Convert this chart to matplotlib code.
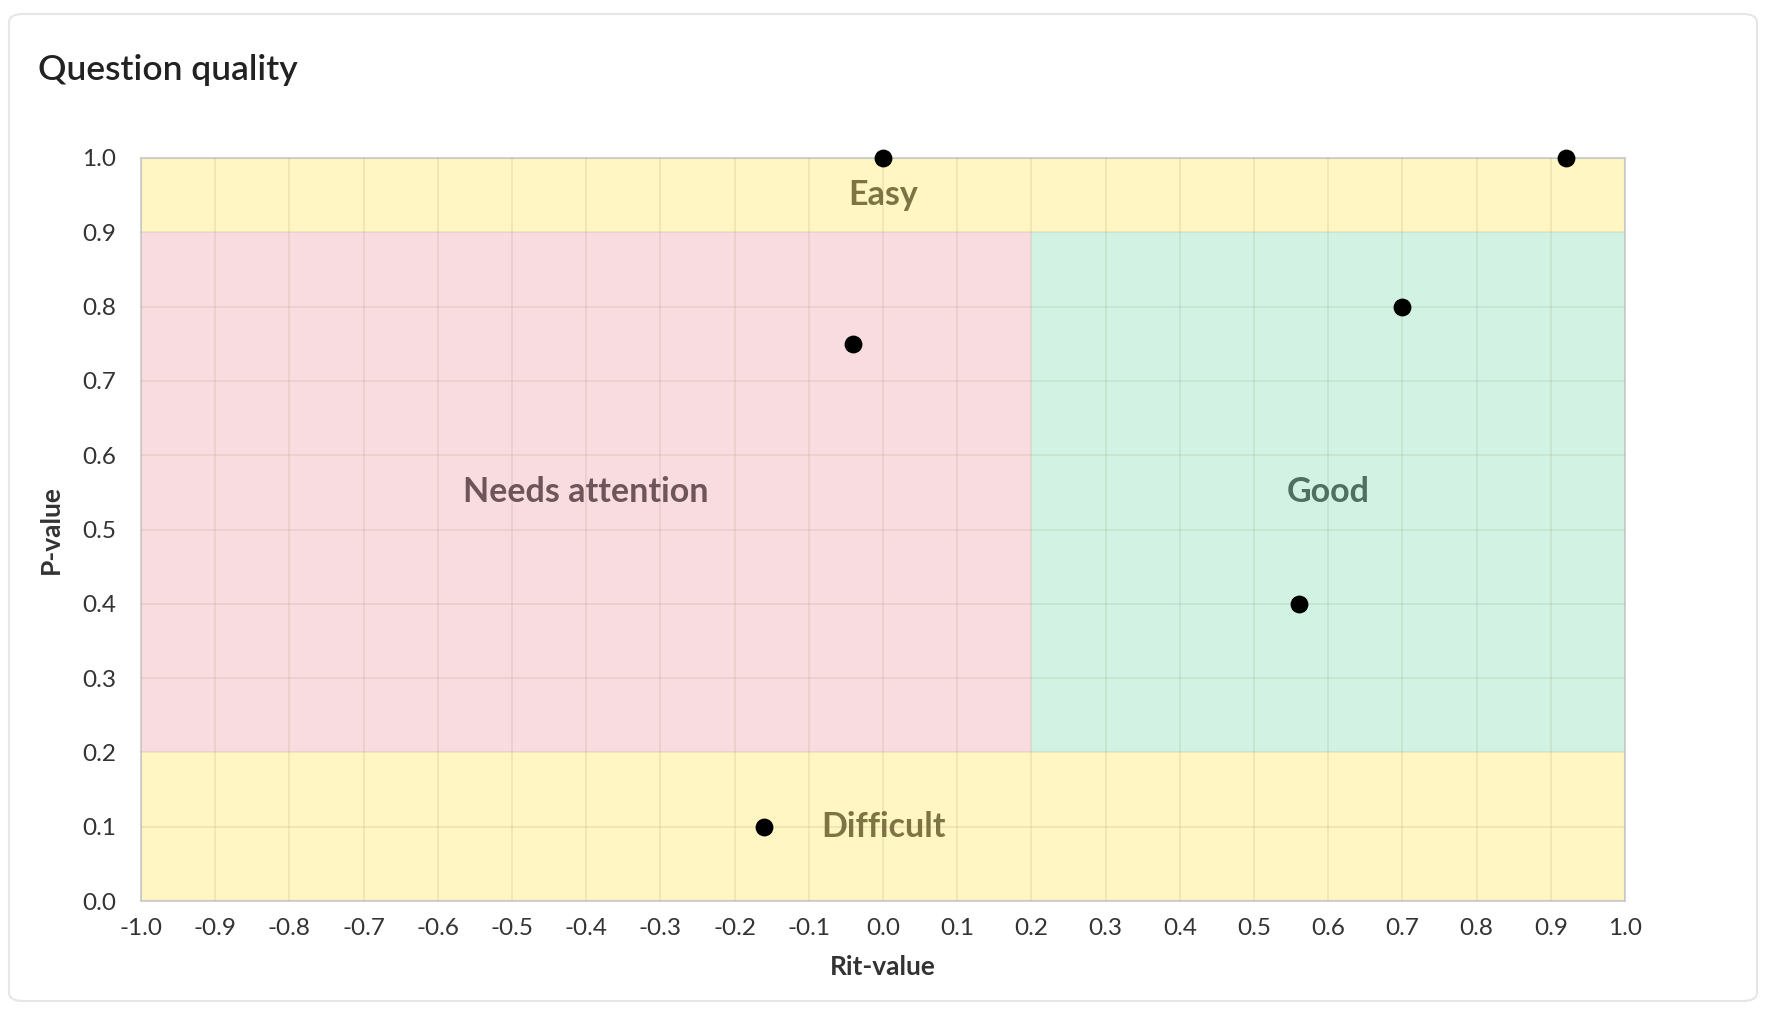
import matplotlib
matplotlib.use("Agg")
import matplotlib.pyplot as plt
from matplotlib.patches import FancyBboxPatch, Rectangle

# ---- data ----
rit_values = [0.0, 0.92, 0.70, -0.04, 0.56, -0.16]
p_values = [1.0, 1.0, 0.80, 0.75, 0.40, 0.10]

x_ticks = [-1.0, -0.9, -0.8, -0.7, -0.6, -0.5, -0.4, -0.3, -0.2, -0.1, 0.0,
           0.1, 0.2, 0.3, 0.4, 0.5, 0.6, 0.7, 0.8, 0.9, 1.0]
y_ticks = [0.0, 0.1, 0.2, 0.3, 0.4, 0.5, 0.6, 0.7, 0.8, 0.9, 1.0]

# regions: (label, x0, x1, y0, y1)
region_labels = ["Easy", "Difficult", "Needs attention", "Good"]
region_x0 = [-1.0, -1.0, -1.0, 0.2]
region_x1 = [1.0, 1.0, 0.2, 1.0]
region_y0 = [0.9, 0.0, 0.2, 0.2]
region_y1 = [1.0, 0.2, 0.9, 0.9]
region_label_x = [0.0, 0.0, -0.4, 0.6]
region_label_y = [0.95, 0.1, 0.55, 0.55]

region_fill = ["#fff6c4", "#fff6c4", "#f9dce0", "#d2f3e3"]
region_text = ["#7d7444", "#7d7444", "#6e5559", "#4f7060"]

W, H = 1768, 1018
fig = plt.figure(figsize=(W / 100, H / 100), dpi=100)
fig.patch.set_facecolor("white")

# card border
card = FancyBboxPatch((9 / W, 17 / H), (1757 - 9) / W, (1004 - 17) / H,
                      boxstyle="round,pad=0,rounding_size=0.008",
                      transform=fig.transFigure, facecolor="none",
                      edgecolor="#e6e6e6", linewidth=1.5, zorder=-5)
fig.patches.append(card)

ax_l, ax_r, ax_t, ax_b = 141, 1625, 158, 901
ax = fig.add_axes([ax_l / W, 1 - ax_b / H, (ax_r - ax_l) / W, (ax_b - ax_t) / H])
ax.set_facecolor("white")

for i in range(len(region_labels)):
    ax.add_patch(Rectangle((region_x0[i], region_y0[i]),
                           region_x1[i] - region_x0[i], region_y1[i] - region_y0[i],
                           facecolor=region_fill[i], edgecolor="none", zorder=0))
    ax.text(region_label_x[i], region_label_y[i], region_labels[i],
            ha="center", va="center", fontsize=24.5, color=region_text[i],
            family="Lato", fontweight="bold", zorder=2)

ax.set_xlim(-1.0, 1.0)
ax.set_ylim(0.0, 1.0)
ax.set_xticks(x_ticks)
ax.set_yticks(y_ticks)
ax.set_xticklabels([f"{v:.1f}" for v in x_ticks])
ax.set_yticklabels([f"{v:.1f}" for v in y_ticks])
ax.tick_params(length=0, labelsize=17.5, labelcolor="#333333")
ax.tick_params(axis="x", pad=12)
ax.tick_params(axis="y", pad=18)
for lab in ax.get_xticklabels() + ax.get_yticklabels():
    lab.set_family("Lato")

ax.grid(True, color="#6b5a2a", alpha=0.11, linewidth=1.2, zorder=1)
ax.set_axisbelow(False)
for s in ax.spines.values():
    s.set_color("#d4d4d4")
    s.set_linewidth(1.5)

ax.scatter(rit_values, p_values, s=140, color="black", zorder=5, clip_on=False)

ax.set_xlabel("Rit-value", fontsize=19, family="Lato", fontweight="bold",
              color="#333333", labelpad=12)
ax.set_ylabel("P-value", fontsize=19, family="Lato", fontweight="bold",
              color="#333333", labelpad=14)

fig.text(38 / W, 1 - 70 / H, "Question quality", fontsize=25.5, family="Lato",
         fontweight="semibold", color="#222222", va="center", ha="left")

fig.savefig("out.png", dpi=100)
